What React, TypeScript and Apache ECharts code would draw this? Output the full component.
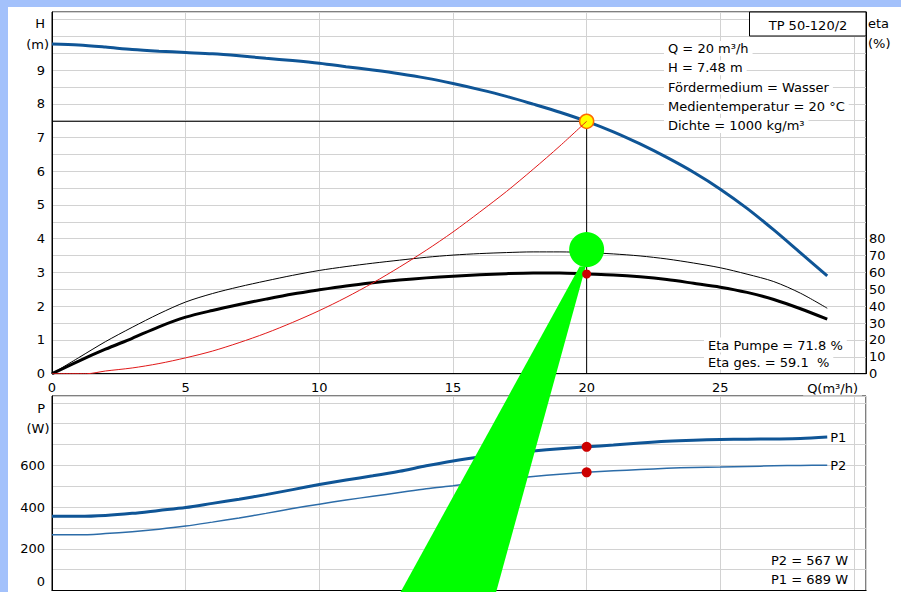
import React, { useEffect, useRef } from "react";
import * as echarts from "echarts";

// ---- data ----
const Q_PUMP = [0, 1, 2, 3, 4, 5, 6, 7, 8, 9, 10, 11, 12, 13, 14, 15, 16, 17, 18, 19, 20, 21, 22, 23, 24, 25, 26, 27, 28, 29];
const H_PUMP = [9.77, 9.74, 9.68, 9.61, 9.56, 9.52, 9.48, 9.42, 9.35, 9.28, 9.2, 9.1, 9.0, 8.89, 8.76, 8.6, 8.42, 8.22, 7.99, 7.75, 7.48, 7.17, 6.81, 6.41, 5.97, 5.47, 4.9, 4.26, 3.58, 2.9];
const ETA_PUMP = [0, 9.5, 19, 27.5, 35.5, 42.5, 47.5, 51.5, 55, 58.3, 61.2, 63.5, 65.5, 67.3, 69, 70.3, 71.2, 71.8, 72.2, 72.2, 71.8, 71, 69.8, 68, 65.6, 62.8, 59, 54.6, 47.7, 38.8];
const ETA_TOTAL = [0, 7.5, 14.5, 21, 27.8, 33.5, 37.5, 41, 44.2, 47.2, 49.7, 52, 53.9, 55.5, 56.8, 57.8, 58.6, 59.3, 59.7, 59.7, 59.1, 58.5, 57.4, 55.8, 53.6, 51.3, 48.2, 44, 38.5, 32.3];
const SYS_Q = [0, 1.3, 2, 3, 4, 5, 6, 7, 8, 9, 10, 11, 12, 13, 14, 15, 16, 17, 18, 19, 20];
const SYS_H = [0, 0, 0.08, 0.17, 0.3, 0.47, 0.67, 0.92, 1.2, 1.52, 1.87, 2.26, 2.69, 3.16, 3.66, 4.2, 4.79, 5.4, 6.06, 6.75, 7.48];
const P1 = [356, 356, 360, 370, 384, 398, 418, 438, 460, 484, 508, 530, 550, 572, 598, 621, 640, 656, 669, 680, 689, 698, 708, 716, 721, 724, 726, 727, 729, 736];
const P2 = [267, 267, 273, 282, 294, 309, 328, 348, 370, 393, 414, 434, 452, 470, 488, 503, 519, 534, 547, 558, 567, 574, 580, 586, 590, 592, 595, 598, 600, 601];

const OP_Q = 20;
const OP_H = 7.48;
const OP_ETA_PUMP = 71.8;
const OP_ETA_TOTAL = 59.1;
const OP_P1 = 689;
const OP_P2 = 567;
const GREEN_ETA = 73.6;

const H_LABELS = [0, 1, 2, 3, 4, 5, 6, 7, 8, 9];
const ETA_LABELS = [0, 10, 20, 30, 40, 50, 60, 70, 80];
const P_LABELS = [0, 200, 400, 600];
const Q_LABELS = [0, 5, 10, 15, 20, 25];

const INFO_LINES = [
  "Q = 20 m³/h",
  "H = 7.48 m",
  "Fördermedium = Wasser",
  "Medientemperatur = 20 °C",
  "Dichte = 1000 kg/m³",
];

const FONT = '"DejaVu Sans", Verdana, sans-serif';
const FS = 13;
const GRID_COLOR = "#d2d2d2";

export default function App() {
  const ref = useRef<HTMLDivElement>(null);

  useEffect(() => {
    if (!ref.current) return;
    const chart = echarts.init(ref.current, null, { renderer: "svg" });

    const pair = (xs: number[], ys: number[]) => xs.map((x, i) => [x, ys[i]]);
    const labelStyle = { color: "#000", fontSize: FS, fontFamily: FONT };
    const axisLine = { show: true, lineStyle: { color: "#000", width: 1 } };
    const split = { show: true, lineStyle: { color: GRID_COLOR, width: 1 } };

    const txt = (text: string, x: number, y: number, align: string, bg = false) => ({
      type: "text",
      x,
      y,
      z: 50,
      style: {
        text,
        font: `${FS}px ${FONT}`,
        fill: "#000",
        align,
        verticalAlign: "middle",
        textAlign: align,
        textVerticalAlign: "middle",
        backgroundColor: bg ? "#fff" : undefined,
        padding: bg ? [1, 4, 1, 4] : undefined,
      },
    });

    const option: any = {
      animation: false,
      backgroundColor: "#fff",
      grid: [
        { left: 44, top: 5, right: 35, bottom: 218.3, show: true, borderColor: "#000", borderWidth: 1 },
        { left: 44, top: 389, right: 35, bottom: 1.5, show: true, borderColor: "#000", borderWidth: 1 },
      ],
      xAxis: [
        {
          gridIndex: 0, type: "value", min: 0, max: 30.45, interval: 5,
          axisLine, axisTick: { show: false },
          axisLabel: { ...labelStyle, margin: 7, formatter: (v: number) => (Q_LABELS.includes(v) ? String(v) : "") },
          splitLine: split,
        },
        {
          gridIndex: 1, type: "value", min: 0, max: 30.45, interval: 5,
          axisLine, axisTick: { show: false }, axisLabel: { show: false },
          splitLine: split,
        },
      ],
      yAxis: [
        {
          gridIndex: 0, type: "value", min: 0, max: 10.72, interval: 0.5,
          axisLine, axisTick: { show: false },
          axisLabel: { ...labelStyle, margin: 7, formatter: (v: number) => (H_LABELS.includes(v) ? String(v) : "") },
          splitLine: split,
        },
        {
          gridIndex: 0, type: "value", position: "right", min: 0, max: 214.4, interval: 10,
          axisLine, axisTick: { show: false },
          axisLabel: { ...labelStyle, margin: 3, formatter: (v: number) => (ETA_LABELS.includes(v) ? String(v) : "") },
          splitLine: { show: false },
        },
        {
          gridIndex: 1, type: "value", min: 0, max: 933, interval: 100,
          axisLine, axisTick: { show: false },
          axisLabel: {
            ...labelStyle, margin: 7,
            formatter: (v: number) => (v === 0 ? "{z|0}" : P_LABELS.includes(v) ? String(v) : ""),
            rich: { z: { ...labelStyle, padding: [0, 0, 18, 0] } },
          },
          splitLine: split,
        },
      ],
      series: [
        {
          name: "Betriebspunkt-Linien", type: "line", xAxisIndex: 0, yAxisIndex: 0,
          data: [[0, OP_H], [OP_Q, OP_H], [OP_Q, 0]], symbol: "none",
          lineStyle: { color: "#000", width: 1 }, z: 3,
        },
        {
          name: "H", type: "line", xAxisIndex: 0, yAxisIndex: 0, data: pair(Q_PUMP, H_PUMP),
          symbol: "none", smooth: 0.3, lineStyle: { color: "#0f5596", width: 3 }, z: 4,
        },
        {
          name: "Betriebspunkt", type: "scatter", xAxisIndex: 0, yAxisIndex: 0, data: [[OP_Q, OP_H]],
          symbol: "circle", symbolSize: 14,
          itemStyle: { color: "#ffff00", borderColor: "#ff6a00", borderWidth: 1.5, opacity: 1 }, z: 5,
        },
        {
          name: "Anlagenkennlinie", type: "line", xAxisIndex: 0, yAxisIndex: 0, data: pair(SYS_Q, SYS_H),
          symbol: "none", smooth: 0.3, lineStyle: { color: "#e01818", width: 1 }, z: 6,
        },
        {
          name: "Eta Pumpe", type: "line", xAxisIndex: 0, yAxisIndex: 1, data: pair(Q_PUMP, ETA_PUMP),
          symbol: "none", smooth: 0.3, lineStyle: { color: "#000", width: 1 }, z: 4,
        },
        {
          name: "Eta ges.", type: "line", xAxisIndex: 0, yAxisIndex: 1, data: pair(Q_PUMP, ETA_TOTAL),
          symbol: "none", smooth: 0.3, lineStyle: { color: "#000", width: 3 }, z: 4,
        },
        {
          name: "Eta-Punkt", type: "scatter", xAxisIndex: 0, yAxisIndex: 1, data: [[OP_Q, OP_ETA_TOTAL]],
          symbol: "circle", symbolSize: 9, itemStyle: { color: "#cc0000", opacity: 1 }, z: 21,
        },
        {
          name: "Marker", type: "scatter", xAxisIndex: 0, yAxisIndex: 1, data: [[OP_Q, GREEN_ETA]],
          symbol: "circle", symbolSize: 35, itemStyle: { color: "#00ff00", opacity: 1 }, z: 20,
        },
        {
          name: "P1", type: "line", xAxisIndex: 1, yAxisIndex: 2, data: pair(Q_PUMP, P1),
          symbol: "none", smooth: 0.3, lineStyle: { color: "#0f5596", width: 3 }, z: 4,
          endLabel: { show: true, formatter: "P1", distance: 3, ...labelStyle },
        },
        {
          name: "P2", type: "line", xAxisIndex: 1, yAxisIndex: 2, data: pair(Q_PUMP, P2),
          symbol: "none", smooth: 0.3, lineStyle: { color: "#2c6ca8", width: 1.5 }, z: 4,
          endLabel: { show: true, formatter: "P2", distance: 3, ...labelStyle },
        },
        {
          name: "P-Punkte", type: "scatter", xAxisIndex: 1, yAxisIndex: 2, data: [[OP_Q, OP_P1], [OP_Q, OP_P2]],
          symbol: "circle", symbolSize: 10, itemStyle: { color: "#cc0000", opacity: 1 }, z: 7,
        },
      ],
    };

    chart.setOption(option);

    const c = chart.convertToPixel({ xAxisIndex: 0, yAxisIndex: 1 }, [OP_Q, GREEN_ETA]) as number[];
    const H = 585;
    const topY = c[1] + 17;
    const botY = H + 2;
    const dy = botY - topY;
    const wedge = [
      [c[0] - 7, topY],
      [c[0] - 1, topY],
      [c[0] - 1 - 0.275 * dy, botY],
      [c[0] - 7 - 0.55 * dy, botY],
    ];

    const graphics: any[] = [
      { type: "polygon", z: 19, shape: { points: wedge }, style: { fill: "#00ff00" } },
      txt("H", 37, 16, "right"),
      txt("(m)", 41, 37, "right"),
      txt("eta", 860, 16, "left"),
      txt("(%)", 860, 36, "left"),
      txt("P", 37, 401, "right"),
      txt("(W)", 41.5, 421, "right"),
      {
        type: "rect", z: 49,
        shape: { x: 741.5, y: 5, width: 116.5, height: 24 },
        style: { fill: "#fff", stroke: "#000", lineWidth: 1 },
      },
      txt("TP 50-120/2", 800, 18, "center"),
      ...INFO_LINES.map((t, i) => txt(t, 656, 41.5 + i * 19.25, "left", true)),
      txt(`Eta Pumpe = ${OP_ETA_PUMP} %`, 696, 338, "left", true),
      txt(`Eta ges. = ${OP_ETA_TOTAL}  %`, 696, 355, "left", true),
      txt("Q(m³/h)", 854, 381, "right", true),
      txt(`P2 = ${OP_P2} W`, 759, 553.5, "left", true),
      txt(`P1 = ${OP_P1} W`, 759, 572, "left", true),
    ];
    chart.setOption({ graphic: graphics });

    return () => chart.dispose();
  }, []);

  return (
    <div style={{ position: "fixed", left: 0, top: 0, width: 901, height: 592, background: "#a3c1fb", overflow: "hidden" }}>
      <div ref={ref} style={{ position: "absolute", left: 8, top: 7, width: 893, height: 585, background: "#fff" }} />
    </div>
  );
}
